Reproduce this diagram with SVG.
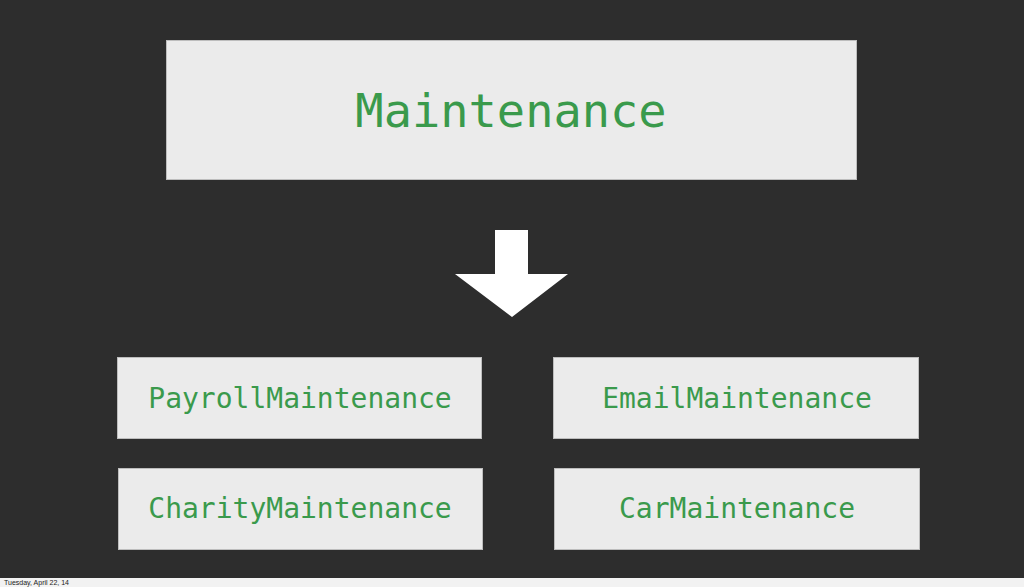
<svg xmlns="http://www.w3.org/2000/svg" width="1024" height="587" viewBox="0 0 1024 587">
<style>
.box{fill:#ebebeb;stroke:#bdbdbd;stroke-width:1}
.lbl{font-family:"DejaVu Sans Mono","Liberation Mono",monospace;fill:#3a9a4c;text-anchor:middle}
.sm{font-size:28px}
.big{font-size:47px}
.foot{font-family:"Liberation Sans",Arial,sans-serif;font-size:7px;fill:#222}
</style>
<rect x="0" y="0" width="1024" height="587" fill="#2d2d2d"/>
<rect x="0" y="578" width="1024" height="9" fill="#f2f2f2"/>
<text class="foot" x="4" y="585">Tuesday, April 22, 14</text>
<g id="maintenance">
<rect class="box" x="166.5" y="40.5" width="690" height="139"/>
<text class="lbl big" x="511" y="127">Maintenance</text>
</g>
<g id="connectors">
<polygon points="495,230 528,230 528,274 568,274 512,317 455,274 495,274" fill="#ffffff"/>
</g>
<g id="payroll">
<rect class="box" x="117.5" y="357.5" width="364" height="81"/>
<text class="lbl sm" x="300" y="408">PayrollMaintenance</text>
</g>
<g id="email">
<rect class="box" x="553.5" y="357.5" width="365" height="81"/>
<text class="lbl sm" x="737" y="408">EmailMaintenance</text>
</g>
<g id="charity">
<rect class="box" x="118.5" y="468.5" width="364" height="81"/>
<text class="lbl sm" x="300" y="518">CharityMaintenance</text>
</g>
<g id="car">
<rect class="box" x="554.5" y="468.5" width="365" height="81"/>
<text class="lbl sm" x="737" y="518">CarMaintenance</text>
</g>
</svg>
